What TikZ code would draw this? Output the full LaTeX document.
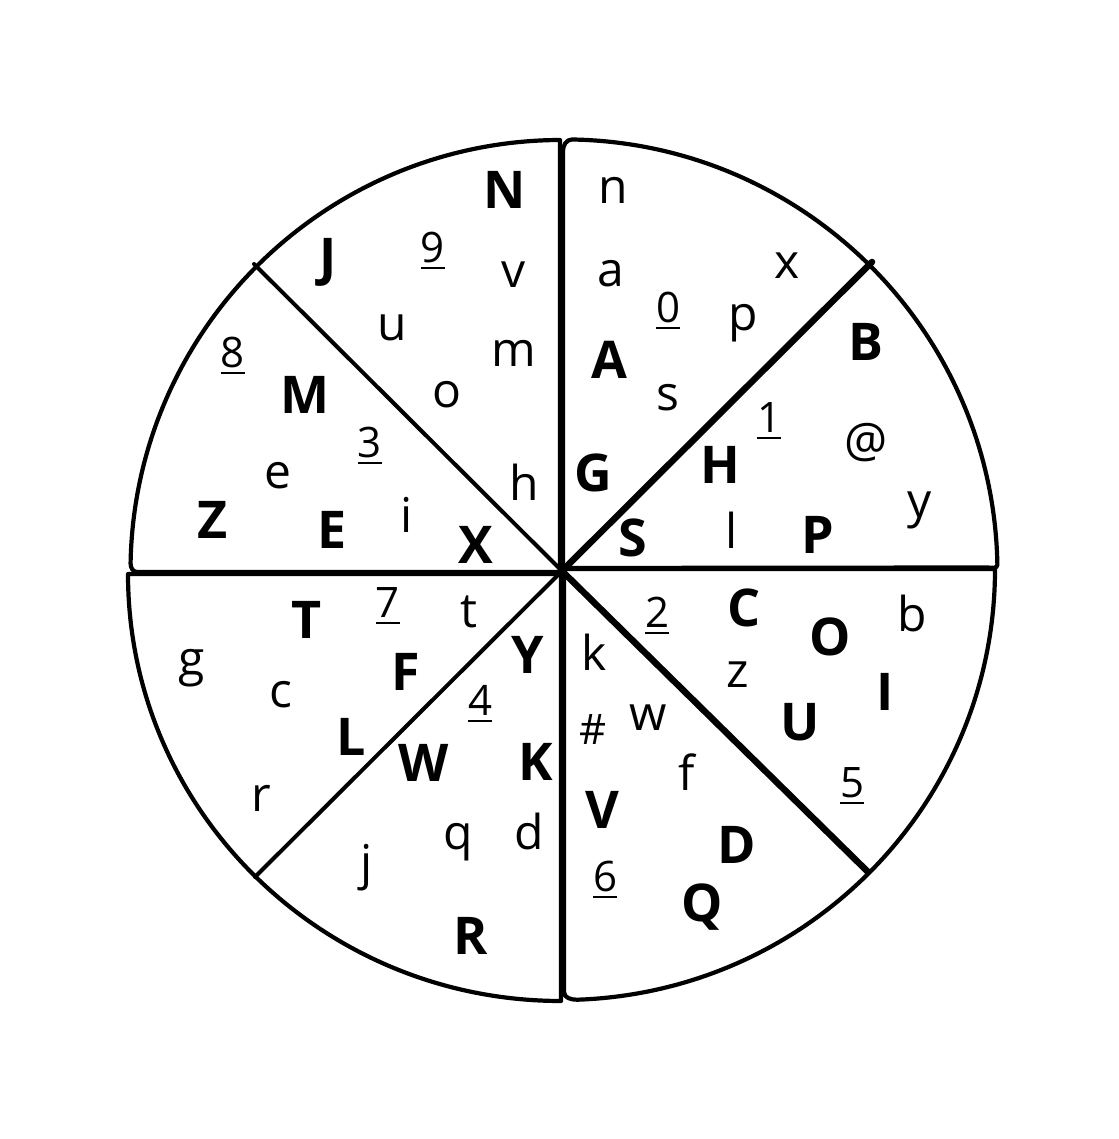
\documentclass[tikz,border=0pt]{standalone}
\usepackage{fontspec}
\setmainfont{Open Sans}

\newcommand{\ulnum}[1]{\setbox0=\hbox{#1}\rlap{\vrule width \wd0 height -4pt depth 6.5pt}\box0}

\tikzset{
  rim/.style={line width=4.2pt, line join=round, line cap=round},
  thin cut/.style={line width=4pt, line cap=round},
  thick cut/.style={line width=6.5pt, line cap=round},
  bigletter/.style={font=\fontsize{52}{52}\selectfont\bfseries, inner sep=0pt},
  smallletter/.style={font=\fontsize{48}{48}\selectfont, inner sep=0pt},
  digit/.style={font=\fontsize{42}{42}\selectfont, inner sep=0pt},
}

\begin{document}
\begin{tikzpicture}[x=1pt, y=1pt]
	\useasboundingbox (0,0) rectangle (1118,1139);
	\coordinate (mid) at (562,568);
	\coordinate (nw) at (254,875);
	\coordinate (ne) at (872,877);
	\coordinate (sw) at (255,262);
	\coordinate (se) at (868,267);

	% the four quarters
	\draw[rim] (560,567) -- (560,999) arc[start angle=90.2, end angle=179, radius=431]
		to[out=-90, in=180] (137,567) -- cycle;
	\draw[rim] (563,571) -- (563,988) to[out=90, in=180] (572,999.5)
		arc[start angle=89, end angle=1, radius=433] to[out=-90, in=0] (987,571.5) -- cycle;
	\draw[rim] (561,565) -- (128,565) arc[start angle=180, end angle=270, x radius=433, y radius=427] -- cycle;
	\draw[rim] (564,570) -- (995,570) arc[start angle=0, end angle=-88, x radius=433, y radius=431]
		to[out=180, in=-90] (564,147) -- cycle;

	% diagonal cuts
	\draw[thin cut] (mid) -- (nw);
	\draw[thin cut] (mid) -- (sw);
	\draw[thick cut] (mid) -- (ne);
	\draw[thick cut] (mid) -- (se);

	% upper left
	\node[bigletter] (N) at (505,949) {N};
	\node[bigletter] (J) at (328,877) {J};
	\node[digit] (9) at (433,888) {\ulnum{9}};
	\node[smallletter] (v) at (514,864) {v};
	\node[smallletter] (u) at (392,811) {u};
	\node[smallletter] (m) at (514,786) {m};
	\node[smallletter] (o) at (447,744) {o};
	\node[smallletter] (h) at (524,657) {h};

	\node[digit] (8) at (233,783) {\ulnum{8}};
	\node[bigletter] (M) at (305,744) {M};
	\node[digit] (3) at (370,693) {\ulnum{3}};
	\node[smallletter] (e) at (278,663) {e};
	\node[smallletter] (i) at (407,624) {i};
	\node[bigletter] (Z) at (213,619) {Z};
	\node[bigletter] (E) at (332,609) {E};
	\node[bigletter] (X) at (476,594) {X};

	% upper right
	\node[smallletter] (n) at (613,949) {n};
	\node[smallletter] (a) at (611,865) {a};
	\node[smallletter] (x) at (787,873) {x};
	\node[digit] (0) at (668,828) {\ulnum{0}};
	\node[smallletter] (p) at (743,816) {p};
	\node[bigletter] (A) at (609,779) {A};
	\node[smallletter] (s) at (668,741) {s};
	\node[bigletter] (G) at (593,666) {G};

	\node[bigletter] (B) at (866,797) {B};
	\node[digit] (1) at (769,718) {\ulnum{1}};
	\node[smallletter] (atsign) at (866,696) {@};
	\node[bigletter] (H) at (720,674) {H};
	\node[smallletter] (y) at (920,629) {y};
	\node[bigletter] (S) at (633,601) {S};
	\node[smallletter] (l) at (732,609) {l};
	\node[bigletter] (P) at (818,604) {P};

	% lower left
	\node[bigletter] (T) at (307,519) {T};
	\node[digit] (7) at (388,533) {\ulnum{7}};
	\node[smallletter] (t) at (469,527) {t};
	\node[smallletter] (g) at (192,471) {g};
	\node[bigletter] (F) at (406,467) {F};
	\node[smallletter] (c) at (281,444) {c};
	\node[bigletter] (L) at (351,402) {L};
	\node[smallletter] (r) at (261,341) {r};

	\node[bigletter] (Y) at (528,484) {Y};
	\node[digit] (4) at (480,435) {\ulnum{4}};
	\node[bigletter] (W) at (424,376) {W};
	\node[bigletter] (K) at (536,377) {K};
	\node[smallletter] (q) at (458,297) {q};
	\node[smallletter] (d) at (529,307) {d};
	\node[smallletter] (j) at (367,271) {j};
	\node[bigletter] (R) at (471,203) {R};

	% lower right
	\node[smallletter] (k) at (594,487) {k};
	\node[digit] (hash) at (593,409) {\#};
	\node[smallletter] (w) at (648,421) {w};
	\node[smallletter] (f) at (687,367) {f};
	\node[bigletter] (V) at (602,329) {V};
	\node[digit] (6) at (605,259) {\ulnum{6}};
	\node[bigletter] (D) at (737,294) {D};
	\node[bigletter] (Q) at (702,232) {Q};

	\node[digit] (2) at (657,523) {\ulnum{2}};
	\node[bigletter] (C) at (744,531) {C};
	\node[bigletter] (O) at (830,502) {O};
	\node[smallletter] (b) at (912,525) {b};
	\node[smallletter] (z) at (738,464) {z};
	\node[bigletter] (I) at (885,447) {I};
	\node[bigletter] (U) at (800,417) {U};
	\node[digit] (5) at (852,353) {\ulnum{5}};
\end{tikzpicture}
\end{document}
